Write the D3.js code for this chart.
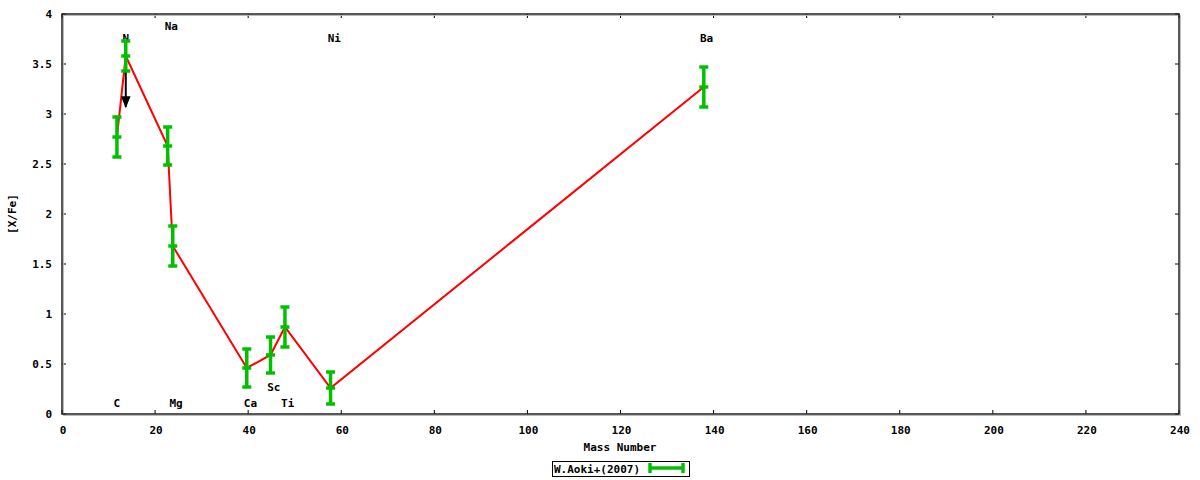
<!DOCTYPE html>
<html><head><meta charset="utf-8">
<script src="https://cdn.jsdelivr.net/npm/d3@7"></script>
<style>body{margin:0;background:#fff}svg{display:block}text{font-family:"DejaVu Sans Mono",monospace;font-weight:bold;font-size:11px}</style>
</head><body>
<svg id="c" width="1200" height="480"></svg>
<script>
const elements = ["C","N","Na","Mg","Ca","Sc","Ti","Ni","Ba"];
const massNumbers = [11.8,13.7,22.7,23.8,39.7,44.8,47.9,57.7,137.9];
const xfe = [2.77,3.58,2.68,1.68,0.46,0.59,0.87,0.26,3.27];
const errs = [0.20,0.15,0.19,0.20,0.19,0.18,0.20,0.16,0.20];
const labelX = [11.8,13.7,23.5,24.5,40.5,45.5,48.5,58.5,138.5];
const labelY = [0.11,3.76,3.88,0.11,0.11,0.27,0.11,3.76,3.76];
const arrowFrom = [13.7,3.43], arrowTo = [13.7,3.07];
const xTicks = d3.range(0,241,20);
const yTicks = [0,0.5,1,1.5,2,2.5,3,3.5,4];
const yTickLabels = ["0","0.5","1","1.5","2","2.5","3","3.5","4"];

const svg = d3.select("#c");
const L=62,R=1179,T=14,B=414;
const x = d3.scaleLinear().domain([0,240]).range([L,R]);
const y = d3.scaleLinear().domain([0,4]).range([B,T]);
const green="#00c000";

const g = svg.append("g");
xTicks.forEach(t=>{
  g.append("line").attr("x1",x(t)).attr("x2",x(t)).attr("y1",B).attr("y2",B-4).attr("stroke","#000");
  g.append("line").attr("x1",x(t)).attr("x2",x(t)).attr("y1",T).attr("y2",T+4).attr("stroke","#000");
  g.append("text").attr("x",x(t)+1).attr("y",B+20).attr("text-anchor","middle").text(t);
});
yTicks.forEach((t,i)=>{
  g.append("line").attr("x1",L).attr("x2",L+4).attr("y1",y(t)).attr("y2",y(t)).attr("stroke","#000");
  g.append("line").attr("x1",R).attr("x2",R-4).attr("y1",y(t)).attr("y2",y(t)).attr("stroke","#000");
  g.append("text").attr("x",L-10).attr("y",y(t)+4).attr("text-anchor","end").text(yTickLabels[i]);
});
svg.append("rect").attr("x",L+1.5).attr("y",T+1.5).attr("width",R-L).attr("height",B-T)
  .attr("fill","none").attr("stroke","#bbb").attr("stroke-width",1);
svg.append("rect").attr("x",L).attr("y",T).attr("width",R-L).attr("height",B-T)
  .attr("fill","none").attr("stroke","#222").attr("stroke-width",1.5);

svg.append("text").attr("x",620).attr("y",451).attr("text-anchor","middle").text("Mass Number");
svg.append("text").attr("transform",`translate(16,${(T+B)/2}) rotate(-90)`).attr("text-anchor","middle").text("[X/Fe]");

elements.forEach((e,i)=>{
  svg.append("text").attr("x",x(labelX[i])).attr("y",y(labelY[i])+4).attr("text-anchor","middle").text(e);
});

const line = d3.line().x((d,i)=>x(massNumbers[i])).y(d=>y(d));
svg.append("path").attr("d",line(xfe)).attr("fill","none").attr("stroke","#ff0000").attr("stroke-width",2);

svg.append("defs").append("marker").attr("id","ah").attr("viewBox","0 0 10 10").attr("refX",9).attr("refY",5)
  .attr("markerWidth",6).attr("markerHeight",7).attr("orient","auto")
  .append("path").attr("d","M0,1 L10,5 L0,9 z").attr("fill","#000");
svg.append("line").attr("x1",x(arrowFrom[0])).attr("y1",y(arrowFrom[1])).attr("x2",x(arrowTo[0])).attr("y2",y(arrowTo[1]))
  .attr("stroke","#000").attr("stroke-width",2).attr("marker-end","url(#ah)");

massNumbers.forEach((m,i)=>{
  const cx=x(m), y1=y(xfe[i]-errs[i]), y2=y(xfe[i]+errs[i]), yc=y(xfe[i]);
  const eg=svg.append("g").attr("stroke",green).attr("stroke-width",3.5);
  eg.append("line").attr("x1",cx).attr("x2",cx).attr("y1",y1).attr("y2",y2);
  [y1,y2,yc].forEach(yy=>eg.append("line").attr("x1",cx-4.5).attr("x2",cx+4.5).attr("y1",yy).attr("y2",yy));
});

svg.append("rect").attr("x",552.5).attr("y",461.5).attr("width",137).attr("height",15).attr("fill","#fff").attr("stroke","#000");
svg.append("text").attr("x",554).attr("y",473).text("W.Aoki+(2007)");
const lg=svg.append("g").attr("stroke",green).attr("stroke-width",3.5);
lg.append("line").attr("x1",650).attr("x2",683).attr("y1",468).attr("y2",468);
[650,683].forEach(xx=>lg.append("line").attr("x1",xx).attr("x2",xx).attr("y1",463).attr("y2",473));
</script>
</body></html>
